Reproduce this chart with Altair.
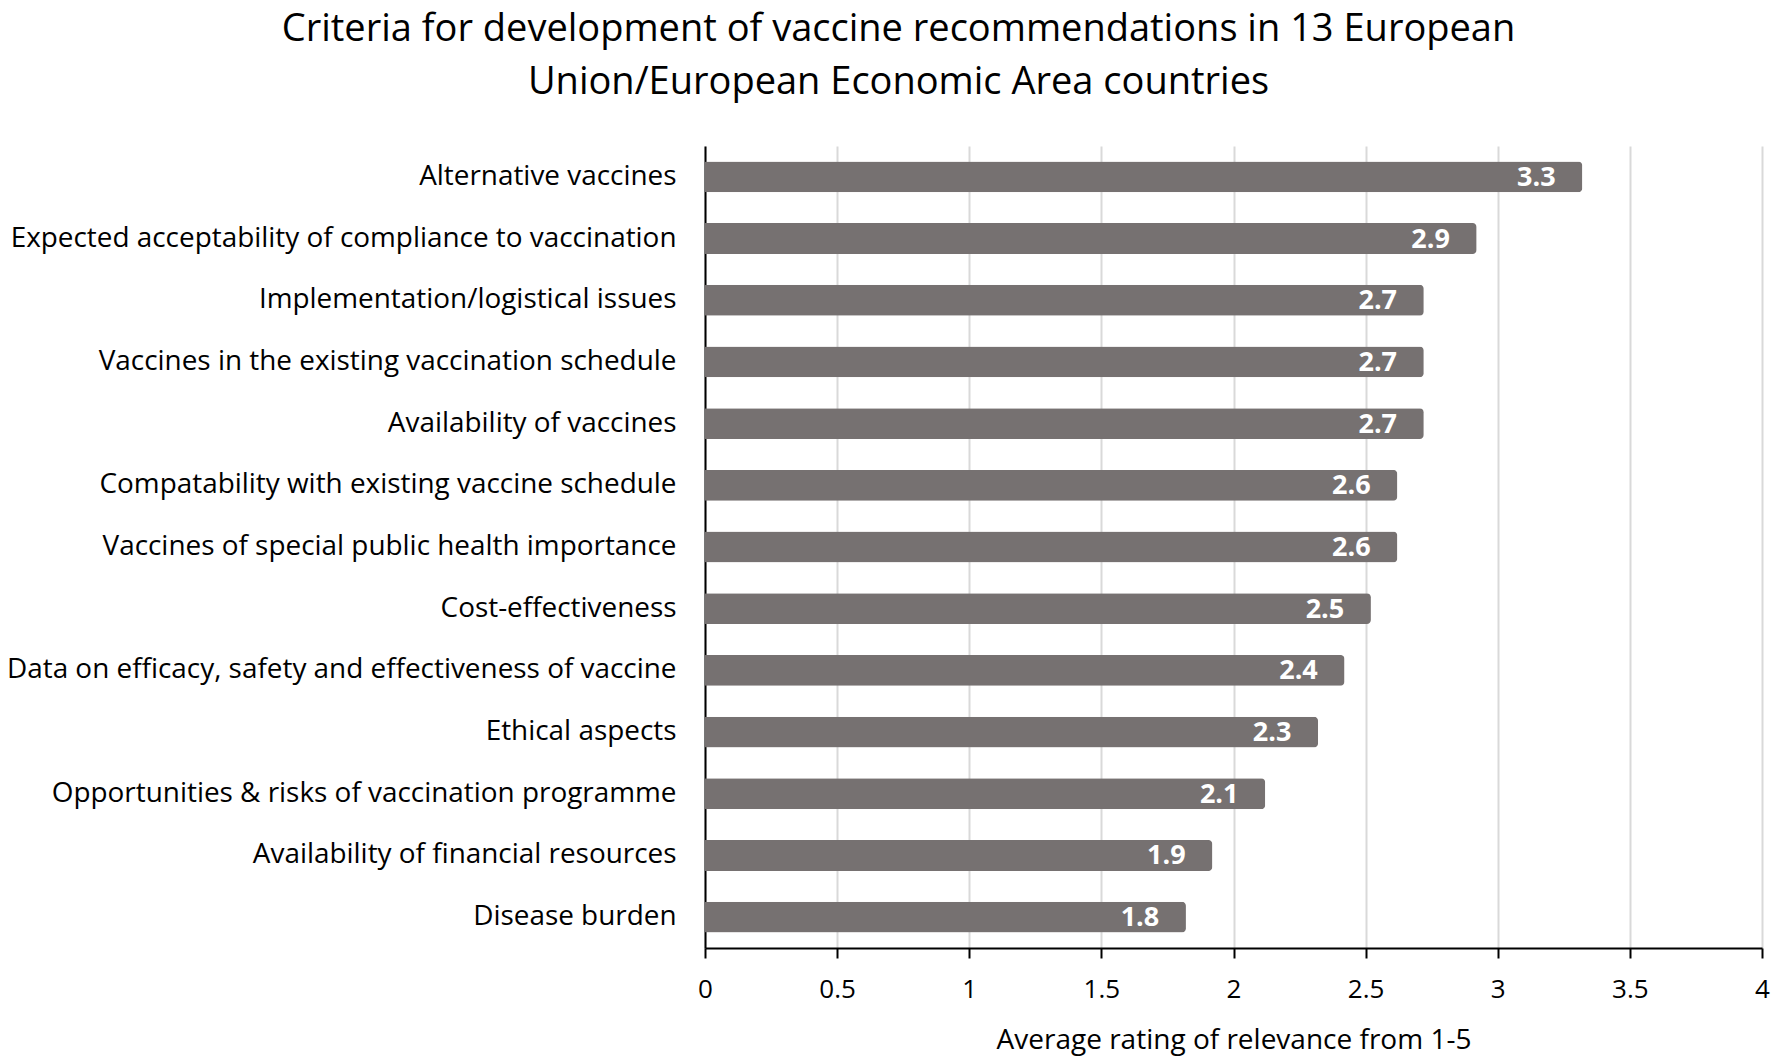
import altair as alt
import pandas as pd

criteria = [
    "Alternative vaccines",
    "Expected acceptability of compliance to vaccination",
    "Implementation/logistical issues",
    "Vaccines in the existing vaccination schedule",
    "Availability of vaccines",
    "Compatability with existing vaccine schedule",
    "Vaccines of special public health importance",
    "Cost-effectiveness",
    "Data on efficacy, safety and effectiveness of vaccine",
    "Ethical aspects",
    "Opportunities & risks of vaccination programme",
    "Availability of financial resources",
    "Disease burden",
]
ratings = [3.32, 2.92, 2.72, 2.72, 2.72, 2.62, 2.62, 2.52, 2.42, 2.32, 2.12, 1.92, 1.82]
x_ticks = [0, 0.5, 1, 1.5, 2, 2.5, 3, 3.5, 4]
title_lines = [
    "Criteria for development of vaccine recommendations in 13 European",
    "Union/European Economic Area countries",
]
x_title = "Average rating of relevance from 1-5"

df = pd.DataFrame({"criterion": criteria, "rating": ratings})

FONT = "Open Sans"

y_enc = alt.Y(
    "criterion:N",
    sort=criteria,
    title=None,
    scale=alt.Scale(paddingInner=0.5, paddingOuter=0.25),
    axis=alt.Axis(
        ticks=False,
        domain=True,
        domainColor="#000000",
        domainWidth=2,
        labelFont=FONT,
        labelFontSize=27.9,
        labelColor="#000000",
        labelPadding=29,
        labelLimit=2000,
        grid=False,
    ),
)

x_enc = alt.X(
    "rating:Q",
    scale=alt.Scale(domain=[0, 4], nice=False),
    axis=alt.Axis(
        values=x_ticks,
        format="~g",
        title=x_title,
        titleFont=FONT,
        titleFontSize=28,
        titleFontWeight="normal",
        titleColor="#000000",
        titleBaseline="middle",
        titleY=92,
        labelFont=FONT,
        labelFontSize=26,
        labelColor="#000000",
        labelPadding=18,
        labelFlush=False,
        domainColor="#000000",
        domainWidth=2,
        tickColor="#000000",
        tickWidth=2,
        tickSize=10,
        grid=True,
        gridColor="#d9d9d9",
        gridWidth=2,
    ),
)

base = alt.Chart(df).encode(y=y_enc, x=x_enc)

bars = base.mark_bar(color="#767171", cornerRadiusEnd=4)

labels = base.mark_text(
    color="white",
    font=FONT,
    fontSize=27,
    fontWeight="bold",
    align="center",
    baseline="middle",
    dx=-46,
    dy=1,
).encode(text=alt.Text("rating:Q", format=".1f"))

chart = (
    alt.layer(bars, labels)
    .properties(
        width=1057,
        height=802,
        title=alt.TitleParams(
            text=title_lines,
            font=FONT,
            fontSize=38,
            fontWeight="normal",
            color="#000000",
            lineHeight=53,
            anchor="middle",
            dx=-335,
            offset=44,
        ),
        autosize=alt.AutoSizeParams(type="none"),
        padding={"left": 697, "top": 138, "right": 10, "bottom": 108},
    )
    .configure_view(stroke=None)
)

chart.save("out.html", embed_options={"renderer": "svg", "actions": False})
